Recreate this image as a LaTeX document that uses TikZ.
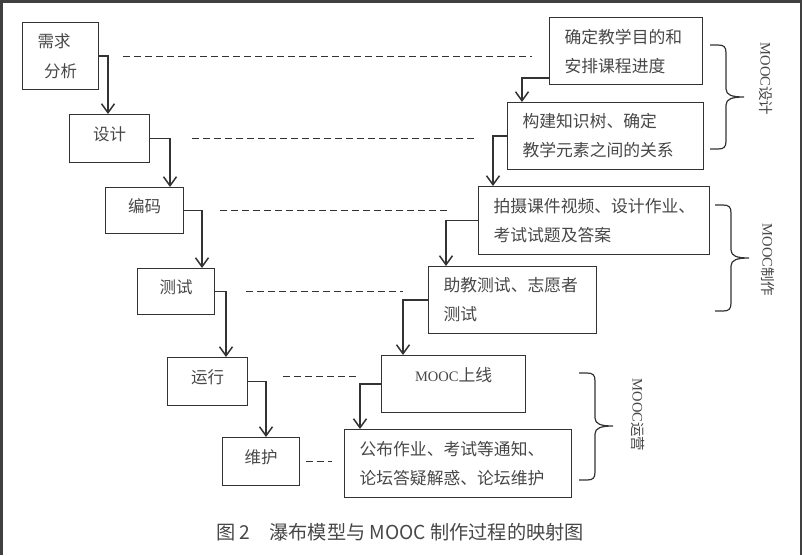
\documentclass[tikz,border=0pt]{standalone}
\usepackage{fontspec}
\setmainfont{Noto Sans CJK SC}
\newfontfamily\lserif{Liberation Serif}
\usetikzlibrary{arrows.meta,positioning,calc}
\definecolor{linec}{HTML}{333333}
\definecolor{textc}{HTML}{474747}

\begin{document}
\begin{tikzpicture}[x=1pt,y=-1pt,
  stage/.style={draw=linec,line width=1.1pt,anchor=north west,align=center,inner sep=0pt,text=textc,font=\fontsize{16.5}{30}\selectfont},
  single/.style={text height=12pt,text depth=9pt},
  task/.style={draw=linec,line width=1.1pt,anchor=north west,align=left,inner xsep=15pt,inner ysep=0pt,text=textc,font=\fontsize{16.8}{29}\selectfont},
  flow/.style={draw=linec,line width=1.5pt,-{Straight Barb[length=9pt,width=13pt]}},
  map/.style={draw=linec,line width=1pt,dash pattern=on 6.5pt off 4.5pt},
  brc/.style={draw=linec,line width=1.2pt},
  phase/.style={rotate=-90,text=textc,font=\fontsize{14.5}{16}\selectfont}
]
  \useasboundingbox (0,0) rectangle (802,555);
  \draw[line width=2.5pt,draw=black!75] (1.25,555) -- (1.25,1.25) -- (800.75,1.25) -- (800.75,555);

  % waterfall stages
  \node[stage,minimum width=76pt,minimum height=67pt] (req) at (22,22) {需求\kern13pt\\分析};
  \node[stage,single,minimum width=80pt,minimum height=48pt] (des) at (69,114) {设计};
  \node[stage,single,minimum width=78pt,minimum height=46pt] (enc) at (105,187) {编码};
  \node[stage,single,minimum width=77pt,minimum height=46pt] (test) at (137,268) {测试};
  \node[stage,single,minimum width=80pt,minimum height=48pt] (run) at (167,357) {运行};
  \node[stage,single,minimum width=77pt,minimum height=48pt] (maint) at (222,437) {维护};

  % MOOC steps
  \node[task,text width=123pt,minimum height=67pt] (r1) at (549,17) {确定教学目的和\\安排课程进度};
  \node[task,text width=166pt,minimum height=67pt] (r2) at (507,102) {构建知识树、确定\\教学元素之间的关系};
  \node[task,text width=201pt,minimum height=68pt] (r3) at (478,186) {拍摄课件视频、设计作业、\\考试试题及答案};
  \node[task,text width=138pt,minimum height=67pt] (r4) at (428,266) {助教测试、志愿者\\测试};
  \node[task,align=center,text width=114pt,minimum height=57pt,text height=8pt,text depth=14pt] (r5) at (381,355) {{\lserif\fontsize{14.5}{29}\selectfont MOOC}上线};
  \node[task,text width=197pt,minimum height=68pt] (r6) at (344,429) {公布作业、考试等通知、\\论坛答疑解惑、论坛维护};

  \draw[flow] (req.east) -| ([xshift=39pt]des.north west);
  \draw[flow] (des.east) -| ([xshift=65pt]enc.north west);
  \draw[flow] (enc.east) -| ([xshift=65pt]test.north west);
  \draw[flow] (test.east) -| ([xshift=59pt]run.north west);
  \draw[flow] (run.east) -| ([xshift=44pt]maint.north west);

  \draw[flow] ([yshift=7pt]r1.south west) -| ([xshift=15pt]r2.north west);
  \draw[flow] (r2.west) -| ([xshift=15pt]r3.north west);
  \draw[flow] (r3.west) -| ([xshift=18pt]r4.north west);
  \draw[flow] (r4.west) -| ([xshift=22pt]r5.north west);
  \draw[flow] (r5.west) -| ([xshift=16pt]r6.north west);

  % mapping
  \draw[map,shorten <=24pt,shorten >=17pt] (req.east) -- (req.east -| r1.west);
  \draw[map,shorten <=42pt,shorten >=29pt] (des.east) -- (des.east -| r2.west);
  \draw[map,shorten <=36pt,shorten >=30pt] (enc.east) -- (enc.east -| r3.west);
  \draw[map,shorten <=31pt,shorten >=25pt] (test.east) -- (test.east -| r4.west);
  \draw[map,shorten <=35pt,shorten >=21pt] ([yshift=5pt]run.east) -- ([yshift=5pt]run.east -| r5.west);
  \draw[map,shorten <=6pt,shorten >=12pt] (maint.east) -- (maint.east -| r6.west);

  % phases
  \foreach \xs/\yt/\ym/\yb/\lx/\ly/\nm/\txt in {710/45/97/149/766/79/ph1/设计, 715/205/258/311/768/260/ph2/制作, 579/373/426/480/638/415/ph3/运营}{
    \draw[brc] (\xs,\yt) -- (\xs+8,\yt) .. controls (\xs+14,\yt) and (\xs+16,\yt+2) .. (\xs+16,\yt+8)
      -- (\xs+16,\ym-8) .. controls (\xs+16,\ym-2) and (\xs+22,\ym) .. (\xs+34,\ym)
      .. controls (\xs+22,\ym) and (\xs+16,\ym+2) .. (\xs+16,\ym+8)
      -- (\xs+16,\yb-8) .. controls (\xs+16,\yb-2) and (\xs+14,\yb) .. (\xs+8,\yb) -- (\xs,\yb);
    \node[phase] (\nm) at (\lx,\ly) {{\lserif MOOC}\txt};
  }

  \node[font=\fontsize{19.2}{21}\selectfont,text=textc] (cap) at (400,532) {图 2\quad 瀑布模型与 MOOC 制作过程的映射图};
\end{tikzpicture}
\end{document}
